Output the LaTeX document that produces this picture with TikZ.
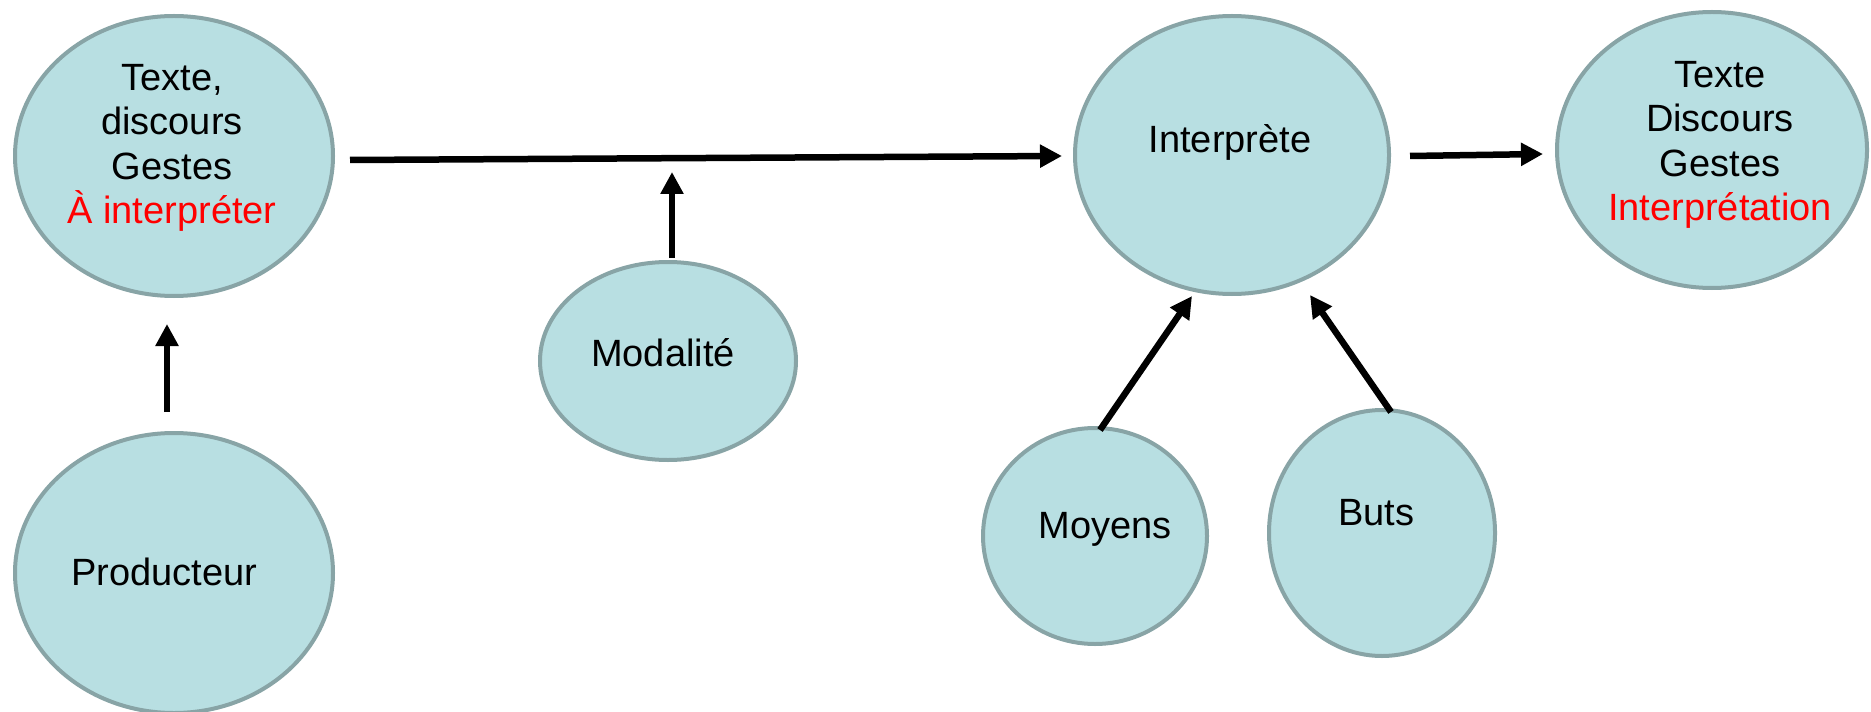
\documentclass[tikz,border=0pt]{standalone}
\usepackage{fontspec}
\setmainfont{Liberation Sans}
\usetikzlibrary{arrows.meta,shapes.geometric}
\definecolor{bubblefill}{HTML}{B8DFE2}
\definecolor{bubbleedge}{HTML}{88A4A6}
\definecolor{hot}{HTML}{FF0000}
\begin{document}
\begin{tikzpicture}[x=0.5pt,y=-0.5pt,
  bubble/.style={ellipse,draw=bubbleedge,fill=bubblefill,line width=2pt,inner sep=0pt},
  lbl/.style={font=\fontsize{19}{22.3}\selectfont,align=center,inner sep=0pt},
  flow/.style={line width=3.25pt,-{Triangle[length=11pt,width=11pt]}}]
\useasboundingbox (0,0) rectangle (1871,711);

% bubbles
\node[bubble,minimum width=159pt,minimum height=140pt] (txt)    at (174,156)  {};
\node[bubble,minimum width=159pt,minimum height=140pt] (prod)   at (174,573)  {};
\node[bubble,minimum width=128pt,minimum height=99pt]  (mod)    at (668,361)  {};
\node[bubble,minimum width=157pt,minimum height=139pt] (interp) at (1232,155) {};
\node[bubble,minimum width=155pt,minimum height=138pt] (result) at (1712,150) {};
\node[bubble,minimum width=112pt,minimum height=108pt] (moyens) at (1095,536) {};
\node[bubble,minimum width=113pt,minimum height=123pt] (buts)   at (1382,533) {};

% labels
\node[lbl,anchor=north] (txt-l) at (172,63.5)
  {Texte,\\discours\\Gestes\\\textcolor{hot}{À interpréter}};
\node[lbl,anchor=base] (prod-l)   at (164,585)  {Producteur};
\node[lbl,anchor=base] (mod-l)    at (663,366)  {Modalité};
\node[lbl,anchor=base] (interp-l) at (1230,153) {Interprète};
\node[lbl,anchor=north] (result-l) at (1720,60.5)
  {Texte\\Discours\\Gestes\\\textcolor{hot}{Interprétation}};
\node[lbl,anchor=base] (moyens-l) at (1105,538) {Moyens};
\node[lbl,anchor=base] (buts-l)   at (1376,525) {Buts};

% connector ends
\coordinate (prod-out)   at (167,412);
\coordinate (txt-in)     at (167,324);
\coordinate (txt-out)    at (350,160);
\coordinate (interp-in)  at (1062,156);
\coordinate (mod-out)    at (672,258);
\coordinate (mod-tip)    at (672,172);
\coordinate (moyens-out) at (1100,430);
\coordinate (interp-sw)  at (1192,296);
\coordinate (buts-out)   at (1391,412);
\coordinate (interp-se)  at (1310,295);
\coordinate (interp-out) at (1410,156);
\coordinate (result-in)  at (1543,154);

% connectors
\draw[flow] (prod-out) -- (txt-in);
\draw[flow] (txt-out) -- (interp-in);
\draw[flow] (mod-out) -- (mod-tip);
\draw[flow] (moyens-out) -- (interp-sw);
\draw[flow] (buts-out) -- (interp-se);
\draw[flow] (interp-out) -- (result-in);
\end{tikzpicture}
\end{document}
